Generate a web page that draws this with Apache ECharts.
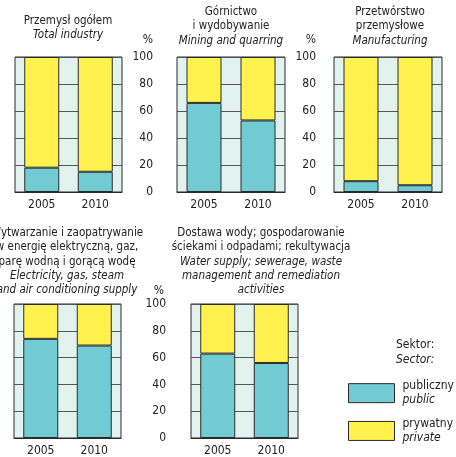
<!DOCTYPE html>
<html><head><meta charset="utf-8">
<script src="https://cdn.jsdelivr.net/npm/echarts@6/dist/echarts.min.js"></script>
<style>html,body{margin:0;padding:0;background:#fff}#c{width:456px;height:457px}</style>
</head><body><div id="c"></div>
<script>
const categories = ['2005', '2010'];
const yTicks = [0, 20, 40, 60, 80, 100];
const panelNames = ['total', 'mining', 'manufacturing', 'energy', 'water'];
const publicTotal = [18, 15];
const privateTotal = [82, 85];
const publicMining = [66, 53];
const privateMining = [34, 47];
const publicManufacturing = [8, 5];
const privateManufacturing = [92, 95];
const publicEnergy = [74, 69];
const privateEnergy = [26, 31];
const publicWater = [63, 56];
const privateWater = [37, 44];

const publicVals = [publicTotal, publicMining, publicManufacturing, publicEnergy, publicWater];
const privateVals = [privateTotal, privateMining, privateManufacturing, privateEnergy, privateWater];

const FONT = "'Liberation Sans Narrow', 'DejaVu Sans Condensed', 'Liberation Sans', sans-serif";
const C_PUB = '#70cbd2', C_PRIV = '#fff24f', BG = '#e2f3ef', DARK = '#2a2a2a';

const grids = [
  {left: 15, top: 57, width: 107, height: 135, labels: false, margin: 24},
  {left: 177, top: 57, width: 108, height: 135, labels: true, margin: 24},
  {left: 334, top: 57, width: 108, height: 135, labels: true, margin: 18},
  {left: 14, top: 304, width: 107, height: 137, labels: false, margin: 24},
  {left: 191, top: 304, width: 107, height: 137, labels: true, margin: 25}
];

const rich = {
  n: {fontFamily: FONT, fontSize: 11.5, color: '#222', fontWeight: 'normal', lineHeight: 14.3},
  i: {fontFamily: FONT, fontSize: 11.5, color: '#222', fontWeight: 'normal', fontStyle: 'italic', lineHeight: 14.3},
  ln: {fontFamily: FONT, fontSize: 12, color: '#222', fontWeight: 'normal', lineHeight: 14.3},
  li: {fontFamily: FONT, fontSize: 12, color: '#222', fontWeight: 'normal', fontStyle: 'italic', lineHeight: 14.3}
};
function mk(lines) { return lines.map(l => '{' + l[0] + '|' + l[1] + '}').join('\n'); }

const titles = [
  {text: mk([['n','Przemysł ogółem'],['i','Total industry']]), left: 68, top: 14},
  {text: mk([['n','Górnictwo'],['n','i wydobywanie'],['i','Mining and quarring']]), left: 231, top: 5},
  {text: mk([['n','Przetwórstwo'],['n','przemysłowe'],['i','Manufacturing']]), left: 390, top: 5},
  {text: mk([['n','Wytwarzanie i zaopatrywanie'],['n','w energię elektryczną, gaz,'],['n','parę wodną i gorącą wodę'],['i','Electricity, gas, steam'],['i','and air conditioning supply']]), left: 67, top: 226},
  {text: mk([['n','Dostawa wody; gospodarowanie'],['n','ściekami i odpadami; rekultywacja'],['i','Water supply; sewerage, waste'],['i','management and remediation'],['i','activities']]), left: 261, top: 226},
  {text: mk([['ln','%']]), left: 148, top: 33},
  {text: mk([['ln','%']]), left: 311, top: 33},
  {text: mk([['ln','%']]), left: 159, top: 284},
  {text: mk([['ln','Sektor:'],['li','Sector:']]), left: 396, top: 338, textAlign: 'left'}
].map(t => Object.assign({padding: 0, textAlign: 'center', textStyle: {fontWeight: 'normal', rich: rich}}, t));
titles.push({text: 'W 2010 r.:', left: 5, top: -10, padding: 0,
  textStyle: {fontFamily: FONT, fontSize: 12, fontWeight: 'bold', color: '#111', lineHeight: 12}});

const option = {
  animation: false,
  title: titles,
  grid: grids.map(g => ({left: g.left, top: g.top, width: g.width, height: g.height,
    show: true, backgroundColor: BG, borderColor: DARK, borderWidth: 1})),
  xAxis: grids.map((g, k) => ({
    type: 'category', gridIndex: k, data: categories,
    axisLine: {lineStyle: {color: DARK}}, axisTick: {show: false},
    axisLabel: {fontFamily: FONT, fontSize: 12, color: '#222', margin: 7}
  })),
  yAxis: grids.map((g, k) => ({
    type: 'value', gridIndex: k, min: 0, max: 100, interval: 20,
    axisLine: {show: false}, axisTick: {show: false},
    splitLine: {lineStyle: {color: '#555', width: 1}},
    axisLabel: {show: g.labels, fontFamily: FONT, fontSize: 12, color: '#222', margin: g.margin,
      formatter: v => yTicks.includes(v) ? String(v) : ''}
  })),
  legend: {
    orient: 'vertical', left: 348, top: 380, height: 77, padding: 0,
    itemWidth: 46, itemHeight: 19, itemGap: 11.5,
    icon: 'rect', data: ['publiczny', 'prywatny'],
    itemStyle: {borderColor: DARK, borderWidth: 1},
    textStyle: {padding: [0, 0, 0, 3], rich: rich},
    formatter: name => name === 'publiczny' ? '{ln|publiczny}\n{li|public}' : '{ln|prywatny}\n{li|private}'
  },
  series: []
};
panelNames.forEach((p, k) => {
  option.series.push({name: 'publiczny', type: 'bar', stack: p, xAxisIndex: k, yAxisIndex: k,
    data: publicVals[k], barWidth: 35,
    itemStyle: {color: C_PUB, borderColor: DARK, borderWidth: 1}});
  option.series.push({name: 'prywatny', type: 'bar', stack: p, xAxisIndex: k, yAxisIndex: k,
    data: privateVals[k], barWidth: 35,
    itemStyle: {color: C_PRIV, borderColor: DARK, borderWidth: 1}});
});
const chart = echarts.init(document.getElementById('c'), null, {renderer: 'canvas'});
chart.setOption(option);
</script></body></html>
